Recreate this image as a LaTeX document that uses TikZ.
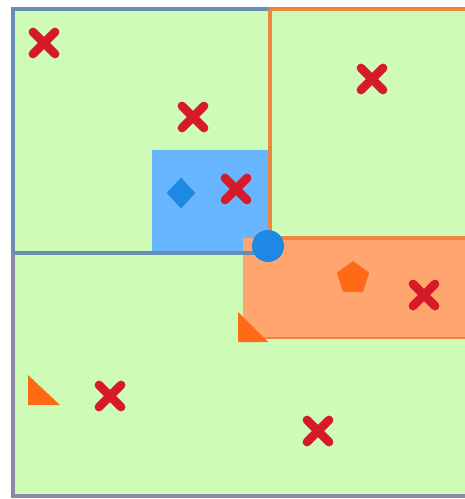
\documentclass[tikz,border=0pt]{standalone}
\usetikzlibrary{shapes.geometric}
\definecolor{cellgreen}{RGB}{206,252,182}
\definecolor{cellblue}{RGB}{104,182,255}
\definecolor{markblue}{RGB}{30,136,229}
\definecolor{cellorange}{RGB}{255,166,112}
\definecolor{edgeorange}{RGB}{236,134,64}
\definecolor{markorange}{RGB}{255,106,22}
\definecolor{markred}{RGB}{214,26,42}
\definecolor{edgesteel}{RGB}{104,142,182}
\definecolor{edgegray}{RGB}{142,136,166}
\tikzset{
  xmark/.style={draw=markred,line width=5pt,line cap=round},
  cellline/.style={line width=2.1pt}
}
\begin{document}
\begin{tikzpicture}[x=0.02cm,y=-0.02cm]
  \useasboundingbox (0,0) rectangle (464,499);
  \coordinate (tl) at (13,9);
  \coordinate (tm) at (270,9);
  \coordinate (tr) at (466,9);
  \coordinate (ml) at (13,253);
  \coordinate (mr) at (466,238);
  \coordinate (bl) at (13,496);
  \coordinate (br) at (466,496);
  \fill[cellgreen] (tl) rectangle (br);
  \fill[cellblue] (152,150) rectangle (268,253);
  \fill[cellorange] (243,238) rectangle (466,338);
  \draw[edgeorange,line width=1.4pt] (243,338)--(466,338);
  \draw[cellline,edgesteel] (tl) rectangle (270,253);
  \draw[cellline,edgeorange] (tm)--(tr);
  \draw[cellline,edgeorange] (tm)--(270,238)--(mr);
  \draw[cellline,edgegray] (ml)--(bl)--(br);
  \fill[markblue] (268,246) circle (16);
  \node[diamond,fill=markblue,inner sep=0pt,minimum width=0.58cm,minimum height=0.62cm] (dm) at (181,193) {};
  \node[regular polygon,regular polygon sides=5,fill=markorange,inner sep=0pt,minimum size=0.68cm] (pg) at (353,278) {};
  \fill[markorange] (238,312)--(238,342)--(268,342)--cycle;
  \fill[markorange] (28,375)--(28,405)--(60,405)--cycle;
  \foreach \x/\y in {44/43,193/117,236/189,372/79,424/295,110/396,318/431}
    \draw[xmark] (\x-11,\y-11)--(\x+11,\y+11) (\x-11,\y+11)--(\x+11,\y-11);
\end{tikzpicture}
\end{document}
